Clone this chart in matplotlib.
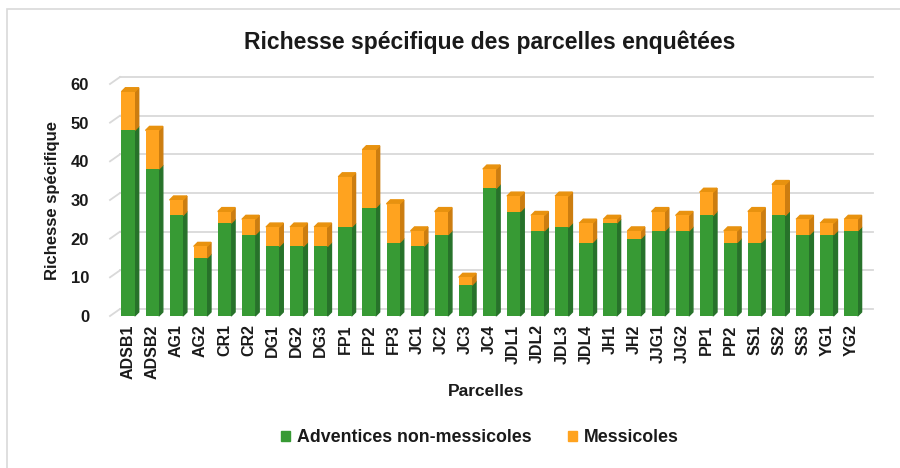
import numpy as np
import matplotlib
matplotlib.use("Agg")
import matplotlib.pyplot as plt
from matplotlib.patches import Patch, Polygon, Rectangle
from matplotlib.transforms import ScaledTranslation

plt.rcParams['font.family'] = ['Liberation Sans', 'DejaVu Sans']
plt.rcParams['font.weight'] = 'bold'

parcelles = ['ADSB1', 'ADSB2', 'AG1', 'AG2', 'CR1', 'CR2', 'DG1', 'DG2', 'DG3',
             'FP1', 'FP2', 'FP3', 'JC1', 'JC2', 'JC3', 'JC4', 'JDL1', 'JDL2',
             'JDL3', 'JDL4', 'JH1', 'JH2', 'JJG1', 'JJG2', 'PP1', 'PP2', 'SS1',
             'SS2', 'SS3', 'YG1', 'YG2']
non_messicoles = [48, 38, 26, 15, 24, 21, 18, 18, 18, 23, 28, 19, 18, 21, 8, 33,
                  27, 22, 23, 19, 24, 20, 22, 22, 26, 19, 19, 26, 21, 21, 22]
messicoles = [10, 10, 4, 3, 3, 4, 5, 5, 5, 13, 15, 10, 4, 6, 2, 5,
              4, 4, 8, 5, 1, 2, 5, 4, 6, 3, 8, 8, 4, 3, 3]
yticks = [0, 10, 20, 30, 40, 50, 60]

green = '#379a34'
green_side = '#27722a'
orange = '#ffa31f'
orange_side = '#cc7d10'
grid_c = '#d9d9d9'
txt = '#1a1a1a'

W, H = 900, 468
fig = plt.figure(figsize=(9, 4.68), dpi=100)

# light frame around the chart
fig.add_artist(Rectangle((7 / W, -0.05), 1.2, 1 - 9 / H + 0.05, transform=fig.transFigure,
                         fill=False, edgecolor='#d9d9d9', linewidth=1.2))

left, right, bottom, top = 110, 863, 316, 84
ax = fig.add_axes([left / W, 1 - bottom / H, (right - left) / W, (bottom - top) / H])
n = len(parcelles)
x = np.arange(n)
xmin, xmax = -0.75, n - 0.5
ax.set_xlim(xmin, xmax)
ax.set_ylim(0, 60)

# back wall gridlines, shifted up/right for the 3D look
back = ax.transData + ScaledTranslation(10 / 100, 7 / 100, fig.dpi_scale_trans)
for t in yticks:
    ax.plot([xmin, xmax], [t, t], color=grid_c, lw=1.3, transform=back,
            clip_on=False, zorder=0)
    p0 = ax.transData.transform((xmin, t))
    ax.plot([p0[0], p0[0] + 10], [p0[1], p0[1] + 7], color=grid_c, lw=1.3,
            transform=None, clip_on=False, zorder=0)

bw = 0.55
ax.bar(x, non_messicoles, width=bw, color=green, zorder=3, clip_on=False)
ax.bar(x, messicoles, width=bw, bottom=non_messicoles, color=orange,
       zorder=3, clip_on=False)

# 3D side and top faces, depth converted from pixels to data units
px_x = (right - left) / (xmax - xmin)
px_y = (bottom - top) / 60
dx, dy = 4 / px_x, 4 / px_y
totals = np.array(non_messicoles) + np.array(messicoles)
for i in range(n):
    xr = x[i] + bw / 2
    xl = x[i] - bw / 2
    g, tot = non_messicoles[i], totals[i]
    ax.add_patch(Polygon([(xr, 0), (xr + dx, dy), (xr + dx, g + dy), (xr, g)],
                         closed=True, color=green_side, zorder=2, clip_on=False))
    ax.add_patch(Polygon([(xr, g), (xr + dx, g + dy), (xr + dx, tot + dy), (xr, tot)],
                         closed=True, color=orange_side, zorder=2, clip_on=False))
    ax.add_patch(Polygon([(xl, tot), (xl + dx, tot + dy), (xr + dx, tot + dy), (xr, tot)],
                         closed=True, color='#e8920f', zorder=2, clip_on=False))

for s in ax.spines.values():
    s.set_visible(False)
ax.set_yticks(yticks)
ax.set_xticks(x)
ax.set_xticklabels(parcelles, rotation=90, fontsize=11.5, fontweight='bold', color=txt)
ax.tick_params(axis='y', length=0, pad=15, labelsize=12, labelcolor=txt)
ax.tick_params(axis='x', length=0, pad=6)
ax.set_ylabel('Richesse spécifique', fontsize=12, fontweight='bold', labelpad=8, color=txt)
ax.set_xlabel('Parcelles', fontsize=12.5, fontweight='bold', labelpad=4, color=txt)

fig.text(490 / W, 1 - 42 / H, 'Richesse spécifique des parcelles enquêtées',
         ha='center', va='center', fontsize=16.5, fontweight='bold', color=txt)

handles = [Patch(color=green), Patch(color=orange)]
fig.legend(handles, ['Adventices non-messicoles', 'Messicoles'], loc='center',
           bbox_to_anchor=(480 / W, 1 - 438 / H), ncol=2, frameon=False,
           fontsize=12.8, handlelength=0.5, handleheight=0.5, handletextpad=0.4,
           columnspacing=2.0, labelcolor=txt)

fig.savefig('out.png', dpi=100)
